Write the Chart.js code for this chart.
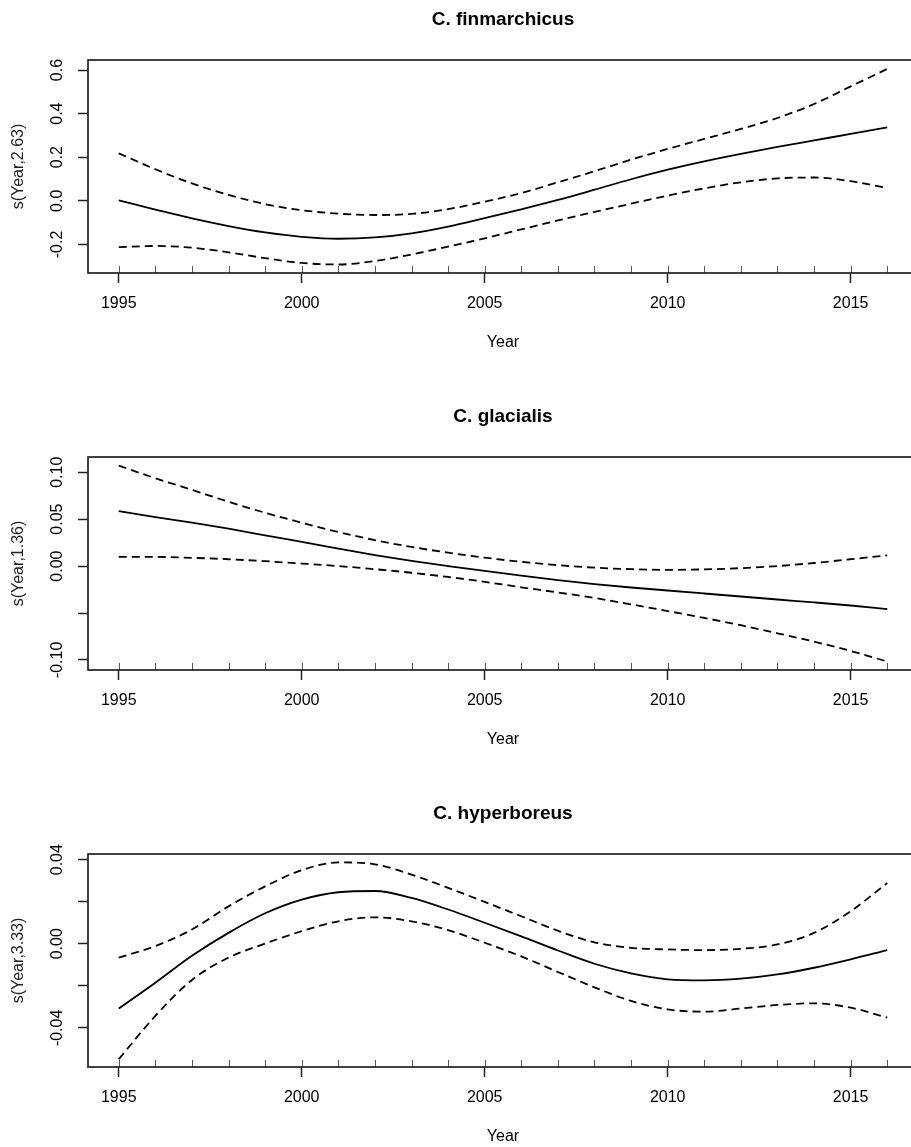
<!DOCTYPE html>
<html><head><meta charset="utf-8">
<script src="https://cdn.jsdelivr.net/npm/chart.js@4.4.1/dist/chart.umd.min.js"></script>
<style>
html,body{margin:0;padding:0;background:#fff;overflow:hidden;width:911px;height:1147px;position:relative;}
.panel{position:absolute;left:0;width:1006px;height:382px;}
</style></head><body>
<div class="panel" style="top:0px"><canvas id="c1" width="1006" height="382"></canvas></div>
<div class="panel" style="top:397px"><canvas id="c2" width="1006" height="382"></canvas></div>
<div class="panel" style="top:794px"><canvas id="c3" width="1006" height="382"></canvas></div>
<script>
// ---------- data ----------
const years = [1995,1996,1997,1998,1999,2000,2001,2002,2003,2004,2005,2006,2007,2008,2009,2010,2011,2012,2013,2014,2015,2016];
const xTicks = [1995,2000,2005,2010,2015];

const finTitle = 'C. finmarchicus';
const finYTitle = 's(Year,2.63)';
const finFit   = [0.002,-0.040,-0.081,-0.116,-0.145,-0.165,-0.174,-0.168,-0.149,-0.118,-0.079,-0.039,0.004,0.051,0.099,0.143,0.181,0.215,0.247,0.277,0.307,0.337];
const finUpper = [0.218,0.145,0.080,0.027,-0.015,-0.043,-0.059,-0.065,-0.060,-0.038,-0.004,0.036,0.085,0.136,0.189,0.238,0.284,0.330,0.380,0.444,0.525,0.605];
const finLower = [-0.212,-0.207,-0.215,-0.236,-0.263,-0.285,-0.292,-0.276,-0.246,-0.210,-0.172,-0.131,-0.090,-0.051,-0.013,0.024,0.057,0.085,0.103,0.107,0.090,0.059];
const finYTicks  = [-0.2,0,0.2,0.4,0.6];
const finYLabels = ['-0.2','0.0','0.2','0.4','0.6'];

const glaTitle = 'C. glacialis';
const glaYTitle = 's(Year,1.36)';
const glaFit   = [0.0586,0.0522,0.0462,0.0398,0.0328,0.0257,0.0186,0.0117,0.0055,0.0000,-0.0052,-0.0102,-0.0150,-0.0192,-0.0228,-0.0260,-0.0292,-0.0324,-0.0356,-0.0387,-0.0420,-0.0458];
const glaUpper = [0.1070,0.0936,0.0812,0.0685,0.0568,0.0462,0.0363,0.0276,0.0204,0.0143,0.0090,0.0045,0.0010,-0.0017,-0.0033,-0.0040,-0.0035,-0.0022,0.0000,0.0033,0.0073,0.0115];
const glaLower = [0.0098,0.0098,0.0088,0.0073,0.0052,0.0027,0.0000,-0.0033,-0.0071,-0.0116,-0.0168,-0.0226,-0.0281,-0.0340,-0.0408,-0.0479,-0.0552,-0.0630,-0.0716,-0.0805,-0.0904,-0.1017];
const glaYTicks  = [-0.10,-0.05,0,0.05,0.10];
const glaYLabels = ['-0.10','','0.00','0.05','0.10'];

const hypTitle = 'C. hyperboreus';
const hypYTitle = 's(Year,3.33)';
const hypFit   = [-0.0308,-0.0185,-0.0057,0.0052,0.0145,0.0210,0.0245,0.0251,0.0218,0.0163,0.0100,0.0035,-0.0032,-0.0095,-0.0141,-0.0169,-0.0174,-0.0166,-0.0146,-0.0114,-0.0074,-0.0030];
const hypUpper = [-0.0066,-0.0011,0.0068,0.0178,0.0273,0.0350,0.0387,0.0378,0.0329,0.0266,0.0199,0.0131,0.0062,0.0007,-0.0019,-0.0027,-0.0030,-0.0024,-0.0003,0.0052,0.0155,0.0289];
const hypLower = [-0.0549,-0.0343,-0.0172,-0.0066,0.0001,0.0060,0.0107,0.0126,0.0107,0.0065,0.0005,-0.0060,-0.0134,-0.0207,-0.0272,-0.0312,-0.0323,-0.0308,-0.0291,-0.0283,-0.0304,-0.0351];
const hypYTicks  = [-0.04,-0.02,0,0.02,0.04];
const hypYLabels = ['-0.04','','0.00','','0.04'];

// ---------- drawing ----------
const FONT = '"Liberation Sans", Arial, Helvetica, sans-serif';
Chart.defaults.font.family = FONT;

const panelDecor = {
  id: 'panelDecor',
  afterDraw(chart, args, opts) {
    const {ctx, chartArea: a, scales: {x}} = chart;
    ctx.save();
    // rug of observation years
    ctx.strokeStyle = '#555'; ctx.lineWidth = 1;
    years.forEach(v => {
      const px = Math.round(x.getPixelForValue(v)) + 0.5;
      ctx.beginPath(); ctx.moveTo(px, a.bottom); ctx.lineTo(px, a.bottom - 7); ctx.stroke();
    });
    // box
    ctx.strokeStyle = '#222'; ctx.lineWidth = 1.7;
    ctx.strokeRect(a.left, a.top, a.right - a.left, a.bottom - a.top);
    // main title
    ctx.fillStyle = '#000';
    ctx.font = 'bold 19px ' + FONT;
    ctx.textAlign = 'center'; ctx.textBaseline = 'middle';
    ctx.fillText(opts.title, (a.left + a.right) / 2, a.top - 40);
    ctx.restore();
  }
};

function makePanel(id, title, yTitle, fit, upper, lower, yTicks, yLabels, yMin, yMax) {
  const pts = arr => years.map((x, i) => ({x: x, y: arr[i]}));
  const m = document.createElement('canvas').getContext('2d');
  m.font = '16px ' + FONT;
  const widest = Math.max(...yLabels.map(l => m.measureText(l).width));
  const yPad = Math.max(0, 20 - widest / 2);
  const line = (arr, dash) => ({
    data: pts(arr), borderColor: '#000', borderWidth: 1.8, borderDash: dash,
    pointRadius: 0, cubicInterpolationMode: 'monotone', fill: false
  });
  return new Chart(document.getElementById(id), {
    type: 'line',
    data: { datasets: [ line(fit, []), line(upper, [8,5]), line(lower, [8,5]) ] },
    options: {
      responsive: false, animation: false, devicePixelRatio: 1,
      layout: { padding: { top: 60, right: 88, bottom: 0, left: 0 } },
      plugins: { legend: {display: false}, tooltip: {enabled: false}, title: {display: false},
                 panelDecor: { title: title } },
      scales: {
        x: {
          type: 'linear', min: 1994.16, max: 2016.84,
          afterBuildTicks: s => { s.ticks = xTicks.map(v => ({value: v})); },
          afterFit: s => { s.height = 109; },
          grid: { display: true, drawOnChartArea: false, drawTicks: true, tickLength: 10, tickColor: '#222', tickWidth: 1.5 },
          border: { display: false },
          ticks: { padding: 11, color: '#000', font: {size: 16}, autoSkip: false, maxRotation: 0,
                   callback: v => String(v) },
          title: { display: true, text: 'Year', color: '#000', font: {size: 16}, padding: {top: 0, bottom: 30} }
        },
        y: {
          type: 'linear', min: yMin, max: yMax,
          afterBuildTicks: s => { s.ticks = yTicks.map(v => ({value: v})); },
          afterFit: s => { s.width = 88; },
          grid: { display: true, drawOnChartArea: false, drawTicks: true, tickLength: 10, tickColor: '#222', tickWidth: 1.5 },
          border: { display: false },
          ticks: { padding: yPad, crossAlign: 'center', minRotation: 90, maxRotation: 90, autoSkip: false,
                   color: '#000', font: {size: 16},
                   callback: v => { const k = yTicks.findIndex(t => Math.abs(t - v) < 1e-9); return k >= 0 ? yLabels[k] : ''; } },
          title: { display: true, text: yTitle, color: '#222', font: {size: 16}, padding: {top: 9, bottom: 0} }
        }
      }
    },
    plugins: [panelDecor]
  });
}

makePanel('c1', finTitle, finYTitle, finFit, finUpper, finLower, finYTicks, finYLabels, -0.331, 0.646);
makePanel('c2', glaTitle, glaYTitle, glaFit, glaUpper, glaLower, glaYTicks, glaYLabels, -0.1107, 0.1162);
makePanel('c3', hypTitle, hypYTitle, hypFit, hypUpper, hypLower, hypYTicks, hypYLabels, -0.0586, 0.0427);
</script>
</body></html>
